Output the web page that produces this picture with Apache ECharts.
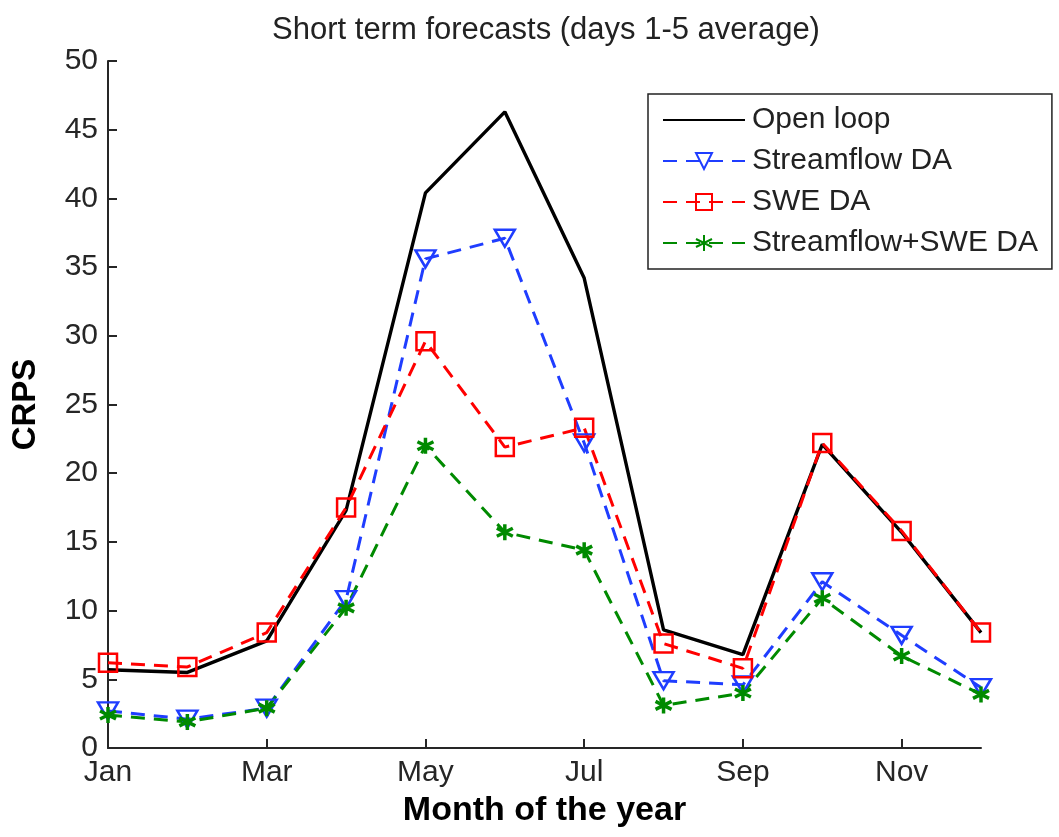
<!DOCTYPE html>
<html>
<head>
<meta charset="utf-8">
<script src="https://cdn.jsdelivr.net/npm/echarts@6/dist/echarts.min.js"></script>
<style>
html,body{margin:0;padding:0;background:#fff;}
#chart{width:1059px;height:837px;}
</style>
</head>
<body>
<div id="chart"></div>
<script>
var months = ['Jan','Feb','Mar','Apr','May','Jun','Jul','Aug','Sep','Oct','Nov','Dec'];
var openLoop     = [5.7, 5.5, 7.8, 17.3, 40.4, 46.3, 34.2, 8.6, 6.8, 22.1, 15.7, 8.4];
var streamflowDA = [2.7, 2.1, 2.9, 10.8, 35.6, 37.1, 22.2, 4.9, 4.6, 12.1, 8.2, 4.4];
var sweDA        = [6.2, 5.9, 8.4, 17.5, 29.6, 21.9, 23.3, 7.6, 5.8, 22.2, 15.8, 8.4];
var combinedDA   = [2.4, 1.9, 2.9, 10.2, 22.0, 15.7, 14.4, 3.1, 4.0, 10.9, 6.7, 3.9];
var seriesNames = ['Open loop', 'Streamflow DA', 'SWE DA', 'Streamflow+SWE DA'];

var FONT = "'Liberation Sans', Arial, Helvetica, sans-serif";
var BLUE = '#1f3dff', RED = '#ff0000', GREEN = '#008a00';
var triDown = 'path://M0,0 L10,0 L5,8.66 Z';
var asterisk = 'path://M5,0 L5,10 M0.7,2.5 L9.3,7.5 M9.3,2.5 L0.7,7.5';

var chart = echarts.init(document.getElementById('chart'), null, {renderer: 'canvas'});
chart.setOption({
  animation: false,
  backgroundColor: '#fff',
  title: {
    text: 'Short term forecasts (days 1-5 average)',
    left: 541, textAlign: 'center', top: 10,
    textStyle: {fontFamily: FONT, fontSize: 31, fontWeight: 'normal', color: '#222'}
  },
  grid: {left: 108, right: 78, top: 61, bottom: 89, containLabel: false, outerBoundsMode: 'none'},
  legend: {
    orient: 'vertical',
    left: 648, top: 94,
    padding: [11, 14, 11, 14],
    itemWidth: 82, itemHeight: 20, itemGap: 11,
    borderColor: '#222', borderWidth: 1.5,
    backgroundColor: '#fff',
    data: [
      {name: seriesNames[0], itemStyle: {color: 'rgba(0,0,0,0)', borderColor: 'rgba(0,0,0,0)', borderWidth: 0, opacity: 0}},
      seriesNames[1], seriesNames[2], seriesNames[3]
    ],
    textStyle: {fontFamily: FONT, fontSize: 30, color: '#222', padding: [0, 0, 0, 2]}
  },
  xAxis: {
    type: 'category',
    data: months,
    boundaryGap: false,
    axisLine: {lineStyle: {color: '#262626', width: 2}},
    axisTick: {inside: true, length: 9, interval: 1, lineStyle: {color: '#262626', width: 2}},
    axisLabel: {interval: 1, fontFamily: FONT, fontSize: 30, color: '#262626', margin: 10},
    splitLine: {show: false},
    name: 'Month of the year',
    nameLocation: 'middle', nameGap: 46,
    nameTextStyle: {fontFamily: FONT, fontSize: 34, fontWeight: 'bold', color: '#000'}
  },
  yAxis: {
    type: 'value',
    min: 0, max: 50, interval: 5,
    axisLine: {show: true, lineStyle: {color: '#262626', width: 2}},
    axisTick: {show: true, inside: true, length: 9, lineStyle: {color: '#262626', width: 2}},
    axisLabel: {fontFamily: FONT, fontSize: 30, color: '#262626', margin: 10},
    splitLine: {show: false},
    name: 'CRPS',
    nameLocation: 'middle', nameRotate: 90, nameGap: 66,
    nameTextStyle: {fontFamily: FONT, fontSize: 33, fontWeight: 'bold', color: '#000'}
  },
  series: [
    {
      name: seriesNames[0], type: 'line', data: openLoop,
      symbol: 'none', showSymbol: false,
      lineStyle: {color: '#000', width: 3.4, type: 'solid'},
      itemStyle: {color: '#000'}
    },
    {
      name: seriesNames[1], type: 'line', data: streamflowDA,
      symbol: triDown, symbolSize: [20, 17], showSymbol: true,
      lineStyle: {color: BLUE, width: 3, type: [14, 9]},
      itemStyle: {color: 'rgba(255,255,255,0)', borderColor: BLUE, borderWidth: 2.5}
    },
    {
      name: seriesNames[2], type: 'line', data: sweDA,
      symbol: 'rect', symbolSize: 18, showSymbol: true,
      lineStyle: {color: RED, width: 3, type: [14, 9]},
      itemStyle: {color: 'rgba(255,255,255,0)', borderColor: RED, borderWidth: 2.5}
    },
    {
      name: seriesNames[3], type: 'line', data: combinedDA,
      symbol: asterisk, symbolSize: 16, showSymbol: true,
      lineStyle: {color: GREEN, width: 3, type: [14, 9]},
      itemStyle: {color: GREEN, borderColor: GREEN, borderWidth: 3.5}
    }
  ]
});
</script>
</body>
</html>
